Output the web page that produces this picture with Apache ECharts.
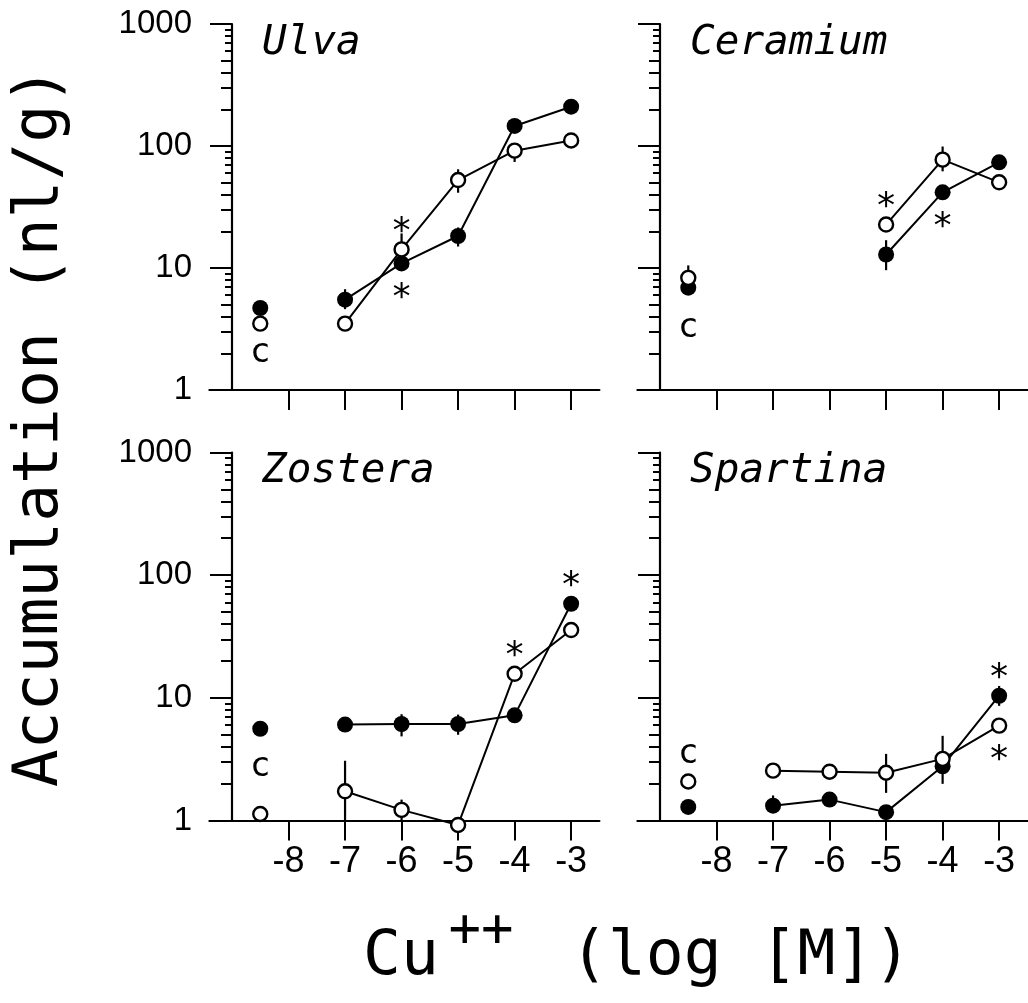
<!DOCTYPE html>
<html>
<head>
<meta charset="utf-8">
<title>Cu accumulation</title>
<script src="https://cdn.jsdelivr.net/npm/echarts@6/dist/echarts.min.js"></script>
<style>
  html, body { margin: 0; padding: 0; background: #fff; }
  #chart { width: 1028px; height: 1003px; }
</style>
</head>
<body>
<div id="chart"></div>
<script>
// Copper accumulation (nl/g) in four marine plants versus Cu++ concentration (log [M]).
// Filled and open circles are the two measurement series; "c" marks the controls.

const doseTicks = [-8, -7, -6, -5, -4, -3];
const doses = [-7, -6, -5, -4, -3];
const controlDose = -8.5;

const majorValues = [1, 10, 100, 1000];
const minorLongValues = [2, 3, 4, 5, 20, 30, 40, 50, 200, 300, 400, 500];
const minorShortValues = [6, 7, 8, 9, 60, 70, 80, 90, 600, 700, 800, 900];

// Ulva
const ulvaFilled = [5.5, 10.9, 18.3, 146, 210];
const ulvaOpen = [3.5, 14.2, 52.6, 91.6, 111];
const ulvaFilledControl = 4.7;
const ulvaOpenControl = 3.5;
const ulvaFilledErr = [[-8.5, 4.2, 5.3], [-7, 4.6, 6.7], [-5, 15, 21.5]];
const ulvaOpenErr = [[-6, 10.5, 19.2], [-5, 41.4, 64.4], [-4, 74, 105]];
const ulvaFilledSig = [-6];
const ulvaOpenSig = [-6];

// Ceramium
const ceramiumDoses = [-5, -4, -3];
const ceramiumFilled = [12.9, 41.7, 73.5];
const ceramiumOpen = [22.7, 77.3, 50.4];
const ceramiumFilledControl = 6.9;
const ceramiumOpenControl = 8.3;
const ceramiumFilledErr = [[-5, 9.6, 16.9]];
const ceramiumOpenErr = [[-8.5, 7, 10.5], [-4, 62, 99]];
const ceramiumFilledSig = [-4];
const ceramiumOpenSig = [-5];

// Zostera
const zosteraFilled = [6.05, 6.12, 6.12, 7.2, 58.5];
const zosteraOpen = [1.73, 1.22, 0.92, 15.7, 35.7];
const zosteraFilledControl = 5.6;
const zosteraOpenControl = 1.13;
const zosteraFilledErr = [[-6, 4.85, 7.35], [-5, 5.0, 7.3]];
const zosteraOpenErr = [[-7, 1, 3.07], [-6, 1, 1.48]];
const zosteraFilledSig = [-3];
const zosteraOpenSig = [-4];

// Spartina
const spartinaFilled = [1.32, 1.48, 1.17, 2.77, 10.4];
const spartinaOpen = [2.55, 2.5, 2.45, 3.18, 5.94];
const spartinaFilledControl = 1.29;
const spartinaOpenControl = 2.08;
const spartinaFilledErr = [[-7, 1.15, 1.6], [-4, 1.99, 3.3], [-3, 8.6, 12.5]];
const spartinaOpenErr = [[-5, 1.68, 3.49], [-4, 2.6, 4.9]];
const spartinaFilledSig = [-3];
const spartinaOpenSig = [-3];

const panels = [
  { name: 'Ulva', doses: doses, filled: ulvaFilled, open: ulvaOpen,
    filledCtrl: ulvaFilledControl, openCtrl: ulvaOpenControl,
    filledErr: ulvaFilledErr, openErr: ulvaOpenErr,
    filledSig: ulvaFilledSig, openSig: ulvaOpenSig },
  { name: 'Ceramium', doses: ceramiumDoses, filled: ceramiumFilled, open: ceramiumOpen,
    filledCtrl: ceramiumFilledControl, openCtrl: ceramiumOpenControl,
    filledErr: ceramiumFilledErr, openErr: ceramiumOpenErr,
    filledSig: ceramiumFilledSig, openSig: ceramiumOpenSig },
  { name: 'Zostera', doses: doses, filled: zosteraFilled, open: zosteraOpen,
    filledCtrl: zosteraFilledControl, openCtrl: zosteraOpenControl,
    filledErr: zosteraFilledErr, openErr: zosteraOpenErr,
    filledSig: zosteraFilledSig, openSig: zosteraOpenSig },
  { name: 'Spartina', doses: doses, filled: spartinaFilled, open: spartinaOpen,
    filledCtrl: spartinaFilledControl, openCtrl: spartinaOpenControl,
    filledErr: spartinaFilledErr, openErr: spartinaOpenErr,
    filledSig: spartinaFilledSig, openSig: spartinaOpenSig }
];

// ---- layout ----
const X_MIN = -9.4, X_MAX = -2.5, Y_AXIS_AT = -9;
const GRID_W = 390;
const Y_OFFSET = -(Y_AXIS_AT - X_MIN) / (X_MAX - X_MIN) * GRID_W;
const layout = [
  { left: 209.4, top: 24, height: 366, yLabels: true, xLabels: false, cOn: 'open', cDy: 30 },
  { left: 637.4, top: 24, height: 366, yLabels: false, xLabels: false, cOn: 'filled', cDy: 41 },
  { left: 209.4, top: 452.5, height: 368, yLabels: true, xLabels: true, cOn: 'filled', cDy: 38 },
  { left: 637.4, top: 452.5, height: 368, yLabels: false, xLabels: true, cOn: 'open', cDy: -27 }
];

const INK = '#000';
const NUM_FONT = '"Liberation Sans", Arial, sans-serif';
const PLOT_FONT = '"DejaVu Sans Mono", monospace';
const STAR_DIST = 26;

const grids = [], xAxes = [], yAxes = [], series = [], graphics = [];

layout.forEach((l, i) => {
  grids.push({ left: l.left, top: l.top, width: GRID_W, height: l.height,
    containLabel: false, outerBoundsMode: 'none' });

  xAxes.push({
    type: 'value', gridIndex: i, min: X_MIN, max: X_MAX, position: 'bottom',
    axisLine: { show: true, onZero: false, lineStyle: { color: INK, width: 2.2 } },
    axisTick: { show: true, inside: false, length: 20, customValues: doseTicks,
      lineStyle: { color: INK, width: 2 } },
    axisLabel: { show: l.xLabels, customValues: doseTicks, margin: 24, color: INK,
      fontFamily: NUM_FONT, fontSize: 36 },
    splitLine: { show: false }
  });

  const yBase = {
    type: 'log', logBase: 10, gridIndex: i, min: 1, max: 1000, position: 'left',
    offset: Y_OFFSET, splitLine: { show: false }
  };
  yAxes.push(Object.assign({}, yBase, {
    axisLine: { show: true, onZero: false, lineStyle: { color: INK, width: 2.2 } },
    axisTick: { show: true, inside: false, length: 22, customValues: majorValues,
      lineStyle: { color: INK, width: 2 } },
    axisLabel: { show: l.yLabels, customValues: majorValues, margin: 40, color: INK,
      fontFamily: NUM_FONT, fontSize: 33, formatter: v => String(Math.round(v)) }
  }));
  yAxes.push(Object.assign({}, yBase, {
    axisLine: { show: false, onZero: false },
    axisTick: { show: true, inside: false, length: 11, customValues: minorLongValues,
      lineStyle: { color: INK, width: 2 } },
    axisLabel: { show: false }
  }));
  yAxes.push(Object.assign({}, yBase, {
    axisLine: { show: false, onZero: false },
    axisTick: { show: true, inside: false, length: 7, customValues: minorShortValues,
      lineStyle: { color: INK, width: 2 } },
    axisLabel: { show: false }
  }));
});

function errorBarSeries(gridIdx, errs) {
  return {
    type: 'custom', xAxisIndex: gridIdx, yAxisIndex: gridIdx * 3, z: 1, silent: true,
    clip: false, data: errs, encode: { x: 0, y: [1, 2] },
    renderItem: (params, api) => {
      const p1 = api.coord([api.value(0), api.value(1)]);
      const p2 = api.coord([api.value(0), api.value(2)]);
      return { type: 'line', shape: { x1: p1[0], y1: p1[1], x2: p2[0], y2: p2[1] },
        style: { stroke: INK, lineWidth: 2.2 } };
    }
  };
}

const filledStyle = { symbol: 'circle', symbolSize: 16,
  itemStyle: { color: INK, opacity: 1 } };
const openStyle = { symbol: 'circle', symbolSize: 14,
  itemStyle: { color: '#fff', borderColor: INK, borderWidth: 2.4, opacity: 1 } };

function starLabel(up) {
  // asterisk glyph sits ~9px above its text anchor
  return { show: true, formatter: '*', position: 'inside',
    offset: [0, up ? -STAR_DIST + 9 : STAR_DIST + 9],
    color: INK, fontFamily: PLOT_FONT, fontSize: 36 };
}

panels.forEach((p, i) => {
  const l = layout[i];
  series.push(errorBarSeries(i, p.filledErr));
  series.push(errorBarSeries(i, p.openErr));

  ['filled', 'open'].forEach(kind => {
    const vals = p[kind];
    const other = p[kind === 'filled' ? 'open' : 'filled'];
    const sig = p[kind + 'Sig'];
    const style = kind === 'filled' ? filledStyle : openStyle;
    const data = p.doses.map((d, k) => {
      const item = { value: [d, vals[k]] };
      if (sig.indexOf(d) >= 0) item.label = starLabel(vals[k] > other[k]);
      return item;
    });
    series.push(Object.assign({
      type: 'line', name: p.name + ' ' + kind, xAxisIndex: i, yAxisIndex: i * 3,
      data: data, clip: false, z: 2,
      lineStyle: { color: INK, width: 2 },
      emphasis: { disabled: true }, silent: true
    }, style));

    const ctrlItem = { value: [controlDose, p[kind + 'Ctrl']] };
    if (l.cOn === kind) {
      ctrlItem.label = { show: true, formatter: 'c', position: 'inside',
        offset: [0, l.cDy], color: INK, fontFamily: PLOT_FONT, fontSize: 34 };
    }
    series.push(Object.assign({
      type: 'scatter', name: p.name + ' ' + kind + ' control', xAxisIndex: i, yAxisIndex: i * 3,
      data: [ctrlItem], clip: false, z: 3,
      emphasis: { disabled: true }, silent: true
    }, style));
  });

  // panel name in the upper-left corner of each plot
  const axisX = l.left - Y_OFFSET;
  graphics.push({ type: 'text', x: axisX + 30, y: l.top + 19, silent: true,
    style: { text: p.name, font: 'italic 41px ' + PLOT_FONT, fill: INK,
      align: 'left', verticalAlign: 'middle' } });
});

// shared axis titles
graphics.push({ type: 'text', x: 41, y: 427, rotation: Math.PI / 2, silent: true,
  style: { text: 'Accumulation (nl/g)', font: '63px ' + PLOT_FONT, fill: INK,
    align: 'center', verticalAlign: 'middle' } });
graphics.push({ type: 'text', x: 363, y: 958, silent: true,
  style: { text: 'Cu', font: '63px ' + PLOT_FONT, fill: INK, align: 'left', verticalAlign: 'middle' } });
graphics.push({ type: 'text', x: 481, y: 932, silent: true,
  style: { text: '++', font: '54px ' + PLOT_FONT, fill: INK, align: 'center', verticalAlign: 'middle' } });
graphics.push({ type: 'text', x: 570, y: 958, silent: true,
  style: { text: '(log [M])', font: '63px ' + PLOT_FONT, fill: INK, align: 'left', verticalAlign: 'middle' } });

const chart = echarts.init(document.getElementById('chart'), null, { renderer: 'canvas' });
chart.setOption({
  animation: false,
  backgroundColor: '#fff',
  grid: grids,
  xAxis: xAxes,
  yAxis: yAxes,
  series: series,
  graphic: graphics
});
</script>
</body>
</html>
